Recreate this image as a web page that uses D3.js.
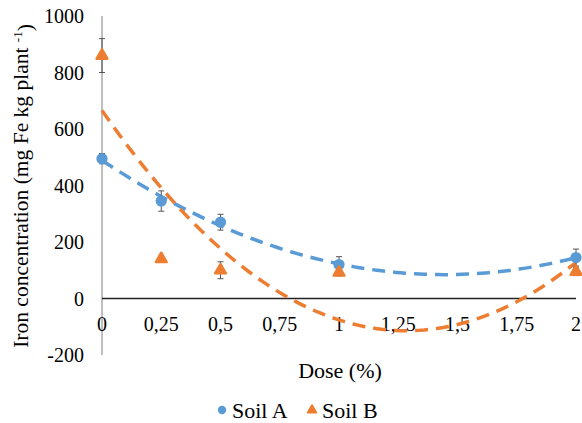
<!DOCTYPE html>
<html>
<head>
<meta charset="utf-8">
<script src="https://cdn.jsdelivr.net/npm/d3@7"></script>
<style>
  body { margin: 0; background: #fff; }
  svg text { font-family: "Liberation Serif", "DejaVu Serif", serif; fill: #000; }
</style>
</head>
<body>
<div id="chart"></div>
<script>
// Data
var doses = [0, 0.25, 0.5, 1, 2];
var soilA = [495, 345, 270, 120, 145];
var soilAErr = [18, 36, 28, 28, 30];
var soilB = [860, 140, 100, 92, 95];
var soilBErr = [60, 10, 30, 12, 14];
var xTicks = [0, 0.25, 0.5, 0.75, 1, 1.25, 1.5, 1.75, 2];
var yTicks = [-200, 0, 200, 400, 600, 800, 1000];

var W = 582, H = 423;
var svg = d3.select("#chart").append("svg")
    .attr("width", W)
    .attr("height", H)
    .attr("font-family", "'Liberation Serif', serif");

var x = d3.scaleLinear().domain([0, 2]).range([102, 576]);
var y = d3.scaleLinear().domain([-200, 1000]).range([355, 16]);

// Second order polynomial fit (like the spreadsheet trendline)
function polyFit(xs, ys) {
    var n = xs.length, s = [0, 0, 0, 0, 0], t = [0, 0, 0];
    for (var i = 0; i < n; i++) {
        for (var k = 0; k < 5; k++) s[k] += Math.pow(xs[i], k);
        for (var j = 0; j < 3; j++) t[j] += ys[i] * Math.pow(xs[i], j);
    }
    var M = [[s[0], s[1], s[2], t[0]], [s[1], s[2], s[3], t[1]], [s[2], s[3], s[4], t[2]]];
    for (var p = 0; p < 3; p++) {
        for (var r = p + 1; r < 3; r++) {
            var f = M[r][p] / M[p][p];
            for (var c = p; c < 4; c++) M[r][c] -= f * M[p][c];
        }
    }
    var coef = [0, 0, 0];
    for (var q = 2; q >= 0; q--) {
        var v = M[q][3];
        for (var c2 = q + 1; c2 < 3; c2++) v -= M[q][c2] * coef[c2];
        coef[q] = v / M[q][q];
    }
    return function (xx) { return coef[0] + coef[1] * xx + coef[2] * xx * xx; };
}

// Axes
svg.append("line")
    .attr("x1", x(0)).attr("x2", x(0))
    .attr("y1", y(1000)).attr("y2", y(-200))
    .attr("stroke", "#7f7f7f").attr("stroke-width", 1);

svg.append("line")
    .attr("x1", x(0)).attr("x2", x(2))
    .attr("y1", y(0)).attr("y2", y(0))
    .attr("stroke", "#222").attr("stroke-width", 1.3);

svg.selectAll(".ytick")
    .data(yTicks)
    .enter().append("text")
    .attr("x", 84)
    .attr("y", function (d) { return y(d); })
    .attr("dy", "0.35em")
    .attr("text-anchor", "end")
    .style("font-size", "20px")
    .text(function (d) { return d; });

svg.selectAll(".xtick")
    .data(xTicks)
    .enter().append("text")
    .attr("x", function (d) { return x(d); })
    .attr("y", 331)
    .attr("text-anchor", "middle")
    .style("font-size", "20px")
    .text(function (d) { return String(d).replace(".", ","); });

// Axis titles
svg.append("text")
    .attr("x", x(1) + 1)
    .attr("y", 378)
    .attr("text-anchor", "middle")
    .style("font-size", "22px")
    .text("Dose (%)");

var yTitle = svg.append("text")
    .attr("transform", "translate(28,186) rotate(-90)")
    .attr("text-anchor", "middle")
    .style("font-size", "21.5px");
yTitle.append("tspan").text("Iron concentration (mg Fe kg plant ");
yTitle.append("tspan").attr("dy", "-0.45em").style("font-size", "13px").text("-1");
yTitle.append("tspan").attr("dy", "0.45em").text(")");

// Trendlines
var series = [
    { name: "Soil A", vals: soilA, err: soilAErr, color: "#5b9bd5", shape: d3.symbolCircle },
    { name: "Soil B", vals: soilB, err: soilBErr, color: "#ed7d31", shape: d3.symbolTriangle }
];

var line = d3.line()
    .x(function (d) { return x(d[0]); })
    .y(function (d) { return y(d[1]); });

series.forEach(function (s) {
    var fit = polyFit(doses, s.vals);
    var pts = d3.range(0, 2.0001, 0.02).map(function (v) { return [v, fit(v)]; });
    svg.append("path")
        .datum(pts)
        .attr("d", line)
        .attr("fill", "none")
        .attr("stroke", s.color)
        .attr("stroke-width", 3.5)
        .attr("stroke-dasharray", "13,8");
});

// Error bars and markers
series.forEach(function (s) {
    var g = svg.append("g");
    var rows = doses.map(function (d, i) { return { x: d, y: s.vals[i], e: s.err[i] }; });
    var eb = g.selectAll(".err").data(rows).enter().append("g").attr("stroke", "#555").attr("stroke-width", 1);
    eb.append("line")
        .attr("x1", function (d) { return x(d.x); }).attr("x2", function (d) { return x(d.x); })
        .attr("y1", function (d) { return y(d.y + d.e); }).attr("y2", function (d) { return y(d.y - d.e); });
    eb.append("line")
        .attr("x1", function (d) { return x(d.x) - 3; }).attr("x2", function (d) { return x(d.x) + 3; })
        .attr("y1", function (d) { return y(d.y + d.e); }).attr("y2", function (d) { return y(d.y + d.e); });
    eb.append("line")
        .attr("x1", function (d) { return x(d.x) - 3; }).attr("x2", function (d) { return x(d.x) + 3; })
        .attr("y1", function (d) { return y(d.y - d.e); }).attr("y2", function (d) { return y(d.y - d.e); });

    g.selectAll(".pt").data(rows).enter().append("path")
        .attr("d", d3.symbol().type(s.shape).size(s.shape === d3.symbolCircle ? 100 : 50))
        .attr("transform", function (d) { return "translate(" + x(d.x) + "," + y(d.y) + ")"; })
        .attr("fill", s.color)
        .attr("stroke", s.color)
        .attr("stroke-width", s.shape === d3.symbolCircle ? 0 : 2.5)
        .attr("stroke-linejoin", "round");
});

// Legend
var legend = svg.selectAll(".legend")
    .data(series)
    .enter().append("g")
    .attr("transform", function (d, i) { return "translate(" + (222 + i * 90) + ",410)"; });

legend.append("path")
    .attr("d", function (d) { return d3.symbol().type(d.shape).size(d.shape === d3.symbolCircle ? 55 : 30)(); })
    .attr("fill", function (d) { return d.color; })
    .attr("stroke", function (d) { return d.color; })
    .attr("stroke-width", function (d) { return d.shape === d3.symbolCircle ? 0 : 2; })
    .attr("stroke-linejoin", "round");

legend.append("text")
    .attr("x", 10)
    .attr("dy", "0.35em")
    .style("font-size", "22px")
    .text(function (d) { return d.name; });
</script>
</body>
</html>
